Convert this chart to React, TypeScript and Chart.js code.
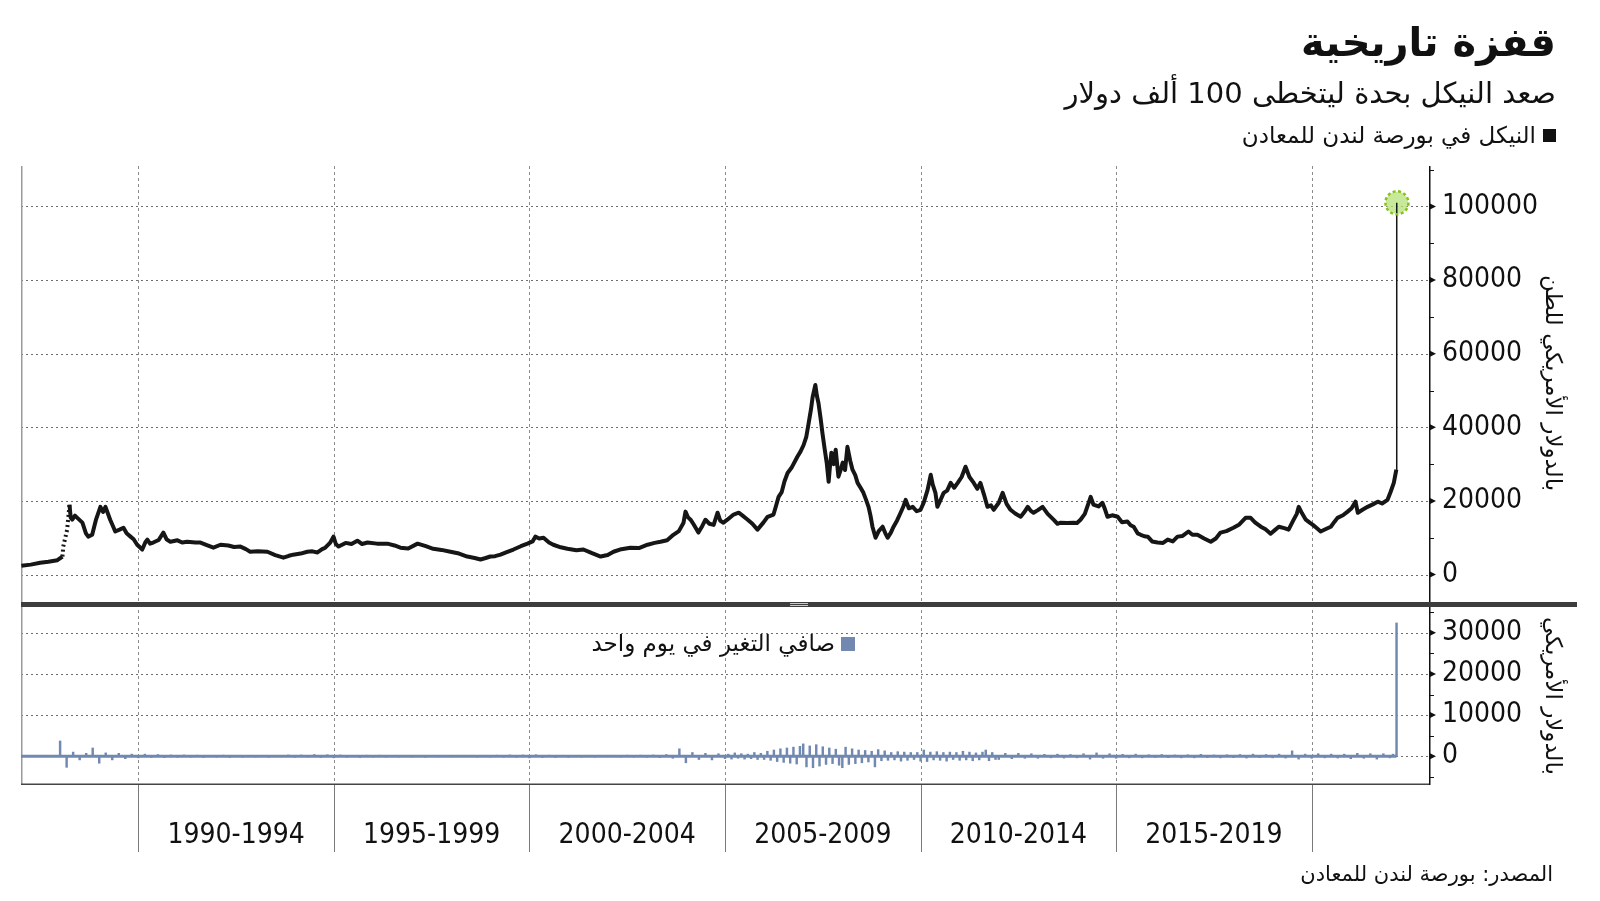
import React, { useEffect, useRef } from 'react';
import { Chart, registerables } from 'chart.js';

Chart.register(...registerables);

// ---------- texts ----------
const titleText = 'قفزة تاريخية';
const subtitleText = 'صعد النيكل بحدة ليتخطى 100 ألف دولار';
const priceLegendText = 'النيكل في بورصة لندن للمعادن';
const changeLegendText = 'صافي التغير في يوم واحد';
const priceAxisTitle = 'بالدولار الأمريكي للطن';
const changeAxisTitle = 'بالدولار الأمريكي';
const sourceText = 'المصدر: بورصة لندن للمعادن';

// ---------- axes ----------
const periodBoundaries = [1990, 1995, 2000, 2005, 2010, 2015, 2020];
const periodLabels = ['1990-1994', '1995-1999', '2000-2004', '2005-2009', '2010-2014', '2015-2019'];
const priceTicks = [0, 20000, 40000, 60000, 80000, 100000];
const priceMinorTicks = [10000, 30000, 50000, 70000, 90000, 110000];
const changeTicks = [0, 10000, 20000, 30000];
const changeMinorTicks = [-5000, 5000, 15000, 25000, 35000];

// ---------- LME nickel price, USD / tonne : [decimal year, value] ----------
const price1987to1989: [number, number][] = [
  [1987.01, 2400], [1987.25, 2700], [1987.49, 3200], [1987.7, 3500], [1987.93, 3900], [1988.06, 4900],
  [1988.08, 7600], [1988.18, 12200], [1988.24, 19000], [1988.27, 15500], [1988.31, 14900], [1988.38, 16000],
  [1988.44, 15400], [1988.57, 14100], [1988.66, 11200], [1988.72, 10300], [1988.82, 10800], [1988.92, 15000],
  [1989.03, 18400], [1989.1, 17000], [1989.16, 18400], [1989.28, 14900], [1989.35, 13200], [1989.41, 11700],
  [1989.52, 12200], [1989.62, 12700], [1989.7, 11200], [1989.8, 10300], [1989.88, 9600], [1989.97, 8100],
];
const price1990to1999: [number, number][] = [
  [1990.1, 6800], [1990.18, 8800], [1990.23, 9500], [1990.3, 8400], [1990.38, 8700], [1990.52, 9400],
  [1990.64, 11400], [1990.72, 9600], [1990.82, 8900], [1991.0, 9300], [1991.12, 8700], [1991.25, 8900],
  [1991.46, 8700], [1991.59, 8700], [1991.75, 8000], [1991.92, 7300], [1992.1, 8100], [1992.3, 7900],
  [1992.45, 7500], [1992.61, 7600], [1992.75, 6900], [1992.86, 6200], [1993.05, 6300], [1993.3, 6200],
  [1993.5, 5300], [1993.71, 4600], [1993.85, 5100], [1993.96, 5400], [1994.15, 5700], [1994.32, 6200],
  [1994.45, 6300], [1994.58, 6000], [1994.7, 6900], [1994.78, 7300], [1994.9, 8600], [1994.99, 10300],
  [1995.05, 8300], [1995.12, 7600], [1995.3, 8600], [1995.45, 8300], [1995.6, 9200], [1995.72, 8300],
  [1995.86, 8700], [1996.1, 8400], [1996.37, 8400], [1996.55, 7900], [1996.7, 7300], [1996.9, 7100],
  [1997.14, 8400], [1997.35, 7700], [1997.54, 7000], [1997.75, 6700], [1997.98, 6200], [1998.2, 5700],
  [1998.41, 4900], [1998.6, 4500], [1998.75, 4100], [1998.88, 4500], [1999.0, 4900], [1999.12, 5000],
  [1999.26, 5400], [1999.42, 6100], [1999.59, 6800], [1999.78, 7700], [1999.95, 8400],
];
const price2000to2009: [number, number][] = [
  [2000.08, 9000], [2000.15, 10300], [2000.25, 9800], [2000.36, 10000], [2000.5, 8700], [2000.61, 8100],
  [2000.8, 7400], [2000.97, 7000], [2001.2, 6600], [2001.38, 6800], [2001.6, 5800], [2001.82, 4900],
  [2002.0, 5300], [2002.15, 6200], [2002.35, 6900], [2002.58, 7300], [2002.8, 7200], [2003.02, 8100],
  [2003.2, 8600], [2003.35, 8900], [2003.52, 9300], [2003.68, 10800], [2003.82, 11800], [2003.94, 14100],
  [2003.99, 17100], [2004.05, 15600], [2004.12, 14900], [2004.2, 13600], [2004.32, 11400], [2004.42, 13200],
  [2004.5, 14900], [2004.6, 13800], [2004.71, 13500], [2004.81, 16800], [2004.88, 14600], [2004.96, 14100],
  [2005.06, 14900], [2005.22, 16300], [2005.35, 16800], [2005.45, 16000], [2005.58, 14900], [2005.7, 13800],
  [2005.83, 12200], [2005.98, 14100], [2006.09, 15700], [2006.24, 16300], [2006.3, 18500], [2006.37, 21100],
  [2006.45, 22400], [2006.52, 25300], [2006.6, 27600], [2006.7, 29000], [2006.85, 32000], [2006.93, 33400],
  [2007.01, 35200], [2007.08, 37500], [2007.14, 41200], [2007.2, 45000], [2007.24, 48200], [2007.31, 51500],
  [2007.35, 48500], [2007.39, 46600], [2007.45, 42000], [2007.49, 38500], [2007.55, 34000], [2007.6, 30400],
  [2007.65, 25200], [2007.68, 29000], [2007.72, 33100], [2007.78, 30000], [2007.83, 33900], [2007.9, 26600],
  [2007.96, 28500], [2008.01, 30400], [2008.07, 28400], [2008.13, 34700], [2008.2, 31000], [2008.26, 28500],
  [2008.33, 27000], [2008.39, 24900], [2008.47, 23500], [2008.54, 22200], [2008.6, 20500], [2008.67, 18400],
  [2008.72, 16000], [2008.77, 13000], [2008.85, 10000], [2008.93, 11800], [2009.03, 13000], [2009.1, 11200],
  [2009.16, 10000], [2009.24, 11400], [2009.31, 13000], [2009.4, 14700], [2009.49, 16800], [2009.56, 18500],
  [2009.62, 20300], [2009.7, 18000], [2009.8, 18400], [2009.9, 17200],
];
const price2010to2019: [number, number][] = [
  [2010.0, 17600], [2010.08, 19500], [2010.18, 23000], [2010.26, 27100], [2010.31, 24500], [2010.38, 22200],
  [2010.43, 18400], [2010.5, 20000], [2010.59, 22200], [2010.68, 22800], [2010.77, 24900], [2010.86, 23600],
  [2010.95, 24900], [2011.05, 26500], [2011.15, 29300], [2011.25, 26500], [2011.36, 24900], [2011.45, 23300],
  [2011.53, 24900], [2011.62, 21800], [2011.71, 18400], [2011.8, 18800], [2011.87, 17600], [2012.0, 19500],
  [2012.1, 22200], [2012.2, 19200], [2012.3, 17600], [2012.42, 16600], [2012.56, 15700], [2012.65, 16900],
  [2012.74, 18400], [2012.82, 17300], [2012.89, 16800], [2013.0, 17500], [2013.12, 18400], [2013.25, 16500],
  [2013.4, 14900], [2013.5, 13800], [2013.58, 14100], [2013.75, 14000], [2013.91, 14100], [2014.0, 14000],
  [2014.09, 14900], [2014.2, 16500], [2014.35, 21100], [2014.42, 19000], [2014.55, 18500], [2014.65, 19500],
  [2014.72, 17600], [2014.78, 15700], [2014.9, 16100], [2015.04, 15700], [2015.15, 14200], [2015.29, 14400],
  [2015.37, 13400], [2015.45, 13000], [2015.55, 11200], [2015.63, 10800], [2015.72, 10400], [2015.81, 10300],
  [2015.92, 9000], [2016.06, 8700], [2016.2, 8600], [2016.32, 9500], [2016.45, 9000], [2016.57, 10300],
  [2016.7, 10500], [2016.85, 11700], [2016.95, 10800], [2017.08, 10800], [2017.25, 9800], [2017.42, 8900],
  [2017.55, 9800], [2017.67, 11400], [2017.82, 11800], [2018.0, 12700], [2018.15, 13600], [2018.31, 15400],
  [2018.44, 15400], [2018.55, 14200], [2018.7, 13000], [2018.82, 12300], [2018.95, 11100], [2019.05, 12000],
  [2019.16, 13000], [2019.3, 12600], [2019.41, 12200], [2019.54, 14900], [2019.62, 16500], [2019.67, 18400],
  [2019.75, 16700], [2019.85, 14900], [2019.95, 14100],
];
const price2020to2022: [number, number][] = [
  [2020.03, 13500], [2020.12, 12700], [2020.23, 11700], [2020.35, 12300], [2020.49, 13000], [2020.58, 14300],
  [2020.66, 15400], [2020.8, 16100], [2020.92, 17100], [2021.02, 18000], [2021.12, 19800], [2021.18, 16800],
  [2021.3, 17600], [2021.43, 18400], [2021.55, 19000], [2021.69, 19800], [2021.8, 19300], [2021.94, 20300],
  [2022.02, 22500], [2022.1, 24900], [2022.165, 28500], [2022.17, 48000], [2022.175, 81000], [2022.18, 101000],
];
const peakPoint: [number, number][] = [[2022.18, 101000]];

// ---------- one-day net change, USD : evenly spaced readings within each block ----------
const change1987to1989 = [
  60, -80, 90, -60, 100, -120,
  3700, -2700, 1000, -900, 700, 2000,
  -1700, 800, -900, 700, -600, 500,
];
const change1990to1994 = [
  -400, 500, -300, 400, -350, 300,
  -250, 300, -200, 250, -300, 200,
  -200, 250, -300, 200, -250, 200,
  -200, 150, -250, 200, -150, 300,
  -250, 300, -200, 400, -300, 350,
];
const change1995to1999 = [
  -400, 300, -250, 200, -300, 250,
  -200, 250, -200, 150, -200, 200,
  -200, 150, -250, 200, -150, 200,
  -150, 200, -150, 150, -200, 150,
  -200, 250, -200, 300, -250, 300,
];
const change2000to2004 = [
  -400, 350, -300, 250, -300, 200,
  -250, 200, -200, 150, -200, 200,
  -150, 200, -200, 250, -200, 250,
  -250, 300, -350, 400, -500, 1800,
  -1600, 900, -800, 700, -900, 600,
];
const change2005to2009 = [
  -600, 500, -700, 800, -500, 600, -700, 500, -600, 900, -800, 700,
  -800, 1200, -1000, 1500, -1300, 1800, -1500, 2000, -1700, 2200, -1900, 2400,
  3000, -2600, 2500, -2800, 2800, -2400, 2300, -2000, 2000, -1800, 1700, -2200,
  -2800, 2200, -2000, 1800, -1800, 1500, -1600, 1400, -1400, 1200, -2600, 1600,
  -1100, 1300, -1000, 900, -900, 1100, -1200, 1000, -1000, 900, -800, 900,
];
const change2010to2011 = [
  -1200, 1500, -1300, 1000, -900, 1100, -1000, 900, -1200, 1000, -800, 900,
  -1000, 1200, -900, 1000, -1100, 800, -900, 1000, 1500, -1100, 900, -800,
];
const change2012to2014 = [
  -800, 700, -600, 700, -500, 600,
  -500, 450, -400, 500, -450, 400,
  -400, 600, -700, 800, -500, 600,
];
const change2015to2019 = [
  -500, 450, -400, 500, -400, 350,
  -300, 400, -350, 300, -400, 350,
  -400, 450, -350, 300, -400, 350,
  -350, 400, -450, 500, -350, 400,
  -400, 500, -450, 1300, -700, 500,
];
const change2020to2021 = [
  -500, 600, -400, 500, -450, 500,
  -600, 700, -500, 600, -700, 600,
];
const changeFinal: [number, number][] = [[2022.0, -400], [2022.08, 500], [2022.17, 32400]];

// [block start year, readings per year, readings]
const changeBlocks: [number, number, number[]][] = [
  [1987, 6, change1987to1989], [1990, 6, change1990to1994], [1995, 6, change1995to1999], [2000, 6, change2000to2004],
  [2005, 12, change2005to2009], [2010, 12, change2010to2011], [2012, 6, change2012to2014],
  [2015, 6, change2015to2019], [2020, 6, change2020to2021],
];

const INK = '#111111';
const CHANGE_COLOR = '#7189b0';
const FONT_NUM = '"DejaVu Sans Condensed", "Liberation Sans Narrow", "DejaVu Sans", sans-serif';
const FONT_AR = '"DejaVu Sans", "Noto Sans", sans-serif';

const decorPlugin = {
  id: 'decor',
  beforeDatasetsDraw(chart: any) {
    const ctx = chart.ctx as CanvasRenderingContext2D;
    const { left, right, top, bottom } = chart.chartArea;
    const xs = chart.scales.x;
    const ys = chart.scales.y;
    const y2s = chart.scales.y2;
    const line = (x1: number, y1: number, x2: number, y2: number) => {
      ctx.beginPath();
      ctx.moveTo(x1, y1);
      ctx.lineTo(x2, y2);
      ctx.stroke();
    };
    ctx.save();
    // horizontal dotted grid
    ctx.strokeStyle = '#6e6e6e';
    ctx.lineWidth = 1;
    ctx.setLineDash([2, 3]);
    priceTicks.forEach((v) => {
      const py = Math.round(ys.getPixelForValue(v)) + 0.5;
      line(left, py, right, py);
    });
    changeTicks.forEach((v) => {
      const py = Math.round(y2s.getPixelForValue(v)) + 0.5;
      line(left, py, right, py);
    });
    // vertical dashed grid
    ctx.strokeStyle = '#8c8c8c';
    ctx.setLineDash([3, 3]);
    periodBoundaries.forEach((b) => {
      const px = Math.round(xs.getPixelForValue(b)) + 0.5;
      line(px, top, px, bottom);
    });
    ctx.setLineDash([]);
    // period separators below the plot
    ctx.strokeStyle = '#7a7a7a';
    periodBoundaries.forEach((b) => {
      const px = Math.round(xs.getPixelForValue(b)) + 0.5;
      line(px, bottom, px, bottom + 67);
    });
    // period labels
    ctx.fillStyle = INK;
    ctx.font = '28px ' + FONT_NUM;
    ctx.textAlign = 'center';
    ctx.textBaseline = 'middle';
    periodLabels.forEach((lab, i) => {
      const cx = (xs.getPixelForValue(periodBoundaries[i]) + xs.getPixelForValue(periodBoundaries[i + 1])) / 2;
      ctx.fillText(lab, cx, bottom + 51);
    });
    // frame
    ctx.lineWidth = 1.5;
    ctx.strokeStyle = '#9a9a9a';
    line(left + 0.75, top, left + 0.75, bottom);
    ctx.strokeStyle = '#444444';
    line(left, bottom - 0.75, right, bottom - 0.75);
    ctx.strokeStyle = INK;
    line(right + 0.75, top, right + 0.75, bottom);
    // minor ticks
    ctx.lineWidth = 1;
    ctx.strokeStyle = INK;
    priceMinorTicks.forEach((v) => {
      const py = Math.round(ys.getPixelForValue(v)) + 0.5;
      line(right, py, right + 5, py);
    });
    changeMinorTicks.forEach((v) => {
      const py = Math.round(y2s.getPixelForValue(v)) + 0.5;
      line(right, py, right + 5, py);
    });
    // major tick triangles
    ctx.fillStyle = INK;
    const tri = (py: number) => {
      ctx.beginPath();
      ctx.moveTo(right, py - 3.5);
      ctx.lineTo(right + 7, py);
      ctx.lineTo(right, py + 3.5);
      ctx.closePath();
      ctx.fill();
    };
    priceTicks.forEach((v) => tri(ys.getPixelForValue(v)));
    changeTicks.forEach((v) => tri(y2s.getPixelForValue(v)));
    // quiet-day band of the daily change series along its zero level
    const meta = chart.getDatasetMeta(1);
    if (meta && meta.data && meta.data.length) {
      const first = meta.data[0];
      const last = meta.data[meta.data.length - 1];
      const zy = y2s.getPixelForValue(0);
      ctx.strokeStyle = CHANGE_COLOR;
      ctx.lineWidth = 3;
      line(first.x, zy, last.x, zy);
    }
    ctx.restore();
  },
  afterDatasetsDraw(chart: any) {
    const ctx = chart.ctx as CanvasRenderingContext2D;
    const { left } = chart.chartArea;
    const ys = chart.scales.y;
    ctx.save();
    // panel separator bar
    const sy = ys.bottom;
    ctx.fillStyle = '#3d3d3d';
    ctx.fillRect(left, sy - 2, 1577 - left, 5);
    ctx.strokeStyle = '#c8c8c8';
    ctx.lineWidth = 1;
    const mid = (left + 1577) / 2;
    ctx.beginPath();
    ctx.moveTo(mid - 9, sy - 0.5);
    ctx.lineTo(mid + 9, sy - 0.5);
    ctx.moveTo(mid - 9, sy + 1.5);
    ctx.lineTo(mid + 9, sy + 1.5);
    ctx.stroke();
    // dashed ring around the record high
    const meta = chart.getDatasetMeta(2);
    const pt = meta && meta.data && meta.data[0];
    if (pt) {
      ctx.strokeStyle = '#86c21a';
      ctx.lineWidth = 2.5;
      ctx.setLineDash([3, 2.5]);
      ctx.beginPath();
      ctx.arc(pt.x, pt.y, 11.5, 0, Math.PI * 2);
      ctx.stroke();
    }
    ctx.restore();
  },
};

export default function App() {
  const canvasRef = useRef<HTMLCanvasElement | null>(null);

  useEffect(() => {
    document.body.style.margin = '0';
    document.body.style.overflow = 'hidden';
    const canvas = canvasRef.current;
    if (!canvas) return;

    const priceData = [...price1987to1989, ...price1990to1999, ...price2000to2009, ...price2010to2019, ...price2020to2022]
      .map(([x, y]) => ({ x, y }));
    const changeData: { x: number; y: number }[] = [];
    changeBlocks.forEach(([start, perYear, vals]) => {
      vals.forEach((v, i) => changeData.push({ x: start + i / perYear, y: v }));
    });
    changeFinal.forEach(([x, y]) => changeData.push({ x, y }));

    const chart = new Chart(canvas, {
      type: 'line',
      data: {
        datasets: [
          {
            type: 'line',
            label: priceLegendText,
            data: priceData,
            yAxisID: 'y',
            borderColor: '#161616',
            borderWidth: 4,
            pointRadius: 0,
            tension: 0,
            borderJoinStyle: 'round',
            segment: {
              borderWidth: (c: any) => (c.p0.parsed.x >= 2022.16 ? 1.5 : undefined),
              borderDash: (c: any) => (c.p0.parsed.x >= 1988.0 && c.p1.parsed.x <= 1988.25 ? [2, 3] : undefined),
            },
          } as any,
          {
            type: 'bar',
            label: changeLegendText,
            data: changeData,
            yAxisID: 'y2',
            backgroundColor: CHANGE_COLOR,
            borderWidth: 0,
            barThickness: 1.8,
          } as any,
          {
            type: 'scatter',
            label: 'peak',
            data: peakPoint.map(([x, y]) => ({ x, y })),
            yAxisID: 'y',
            showLine: false,
            pointRadius: 11,
            pointBackgroundColor: 'rgba(182, 226, 120, 0.75)',
            pointBorderWidth: 0,
            pointBorderColor: 'rgba(0,0,0,0)',
          } as any,
        ],
      },
      options: {
        animation: false,
        responsive: false,
        devicePixelRatio: 1,
        layout: { padding: { left: 21, top: 166, right: 0, bottom: 116 } },
        plugins: { legend: { display: false }, tooltip: { enabled: false } },
        scales: {
          x: {
            type: 'linear',
            min: 1987,
            max: 2023,
            offset: false,
            display: false,
          },
          y: {
            type: 'linear',
            position: 'right',
            stack: 'panels',
            stackWeight: 438,
            weight: 0,
            min: -8000,
            max: 111000,
            afterFit: (s: any) => { s.width = 171; },
            afterBuildTicks: (s: any) => { s.ticks = priceTicks.map((v) => ({ value: v })); },
            grid: { display: false, drawTicks: false },
            border: { display: false },
            ticks: {
              autoSkip: false,
              padding: 13,
              color: INK,
              font: { family: FONT_NUM, size: 28 },
              callback: (v: any) => String(v),
            },
          },
          y2: {
            type: 'linear',
            position: 'right',
            stack: 'panels',
            stackWeight: 181,
            weight: 1,
            min: -7000,
            max: 37000,
            afterFit: (s: any) => { s.width = 171; },
            afterBuildTicks: (s: any) => { s.ticks = changeTicks.map((v) => ({ value: v })); },
            grid: { display: false, drawTicks: false },
            border: { display: false },
            ticks: {
              autoSkip: false,
              padding: 13,
              color: INK,
              font: { family: FONT_NUM, size: 28 },
              callback: (v: any) => String(v),
            },
          },
        },
      } as any,
      plugins: [decorPlugin],
    });
    return () => chart.destroy();
  }, []);

  const abs = (extra: React.CSSProperties): React.CSSProperties => ({
    position: 'absolute',
    whiteSpace: 'nowrap',
    color: INK,
    fontFamily: FONT_AR,
    direction: 'rtl',
    lineHeight: 1,
    ...extra,
  });

  return (
    <div style={{ position: 'relative', width: 1600, height: 901, background: '#ffffff', overflow: 'hidden' }}>
      <canvas ref={canvasRef} width={1600} height={901} style={{ position: 'absolute', left: 0, top: 0, width: 1600, height: 901 }} />
      <div style={abs({ right: 44, top: 22, fontSize: 40, fontWeight: 700 })}>{titleText}</div>
      <div style={abs({ right: 44, top: 79, fontSize: 29 })}>{subtitleText}</div>
      <div style={abs({ right: 44, top: 124, fontSize: 23, display: 'flex', alignItems: 'center', gap: 7 })}>
        <span style={{ display: 'inline-block', width: 13, height: 13, background: INK }} />
        <span>{priceLegendText}</span>
      </div>
      <div style={abs({ right: 745, top: 632, fontSize: 23, display: 'flex', alignItems: 'center', gap: 6 })}>
        <span style={{ display: 'inline-block', width: 14, height: 14, background: CHANGE_COLOR }} />
        <span>{changeLegendText}</span>
      </div>
      <div style={abs({ left: 1553, top: 383, fontSize: 23, transform: 'translate(-50%, -50%) rotate(90deg)' })}>{priceAxisTitle}</div>
      <div style={abs({ left: 1553, top: 696, fontSize: 23, transform: 'translate(-50%, -50%) rotate(90deg)' })}>{changeAxisTitle}</div>
      <div style={abs({ right: 47, top: 864, fontSize: 21 })}>{sourceText}</div>
    </div>
  );
}
